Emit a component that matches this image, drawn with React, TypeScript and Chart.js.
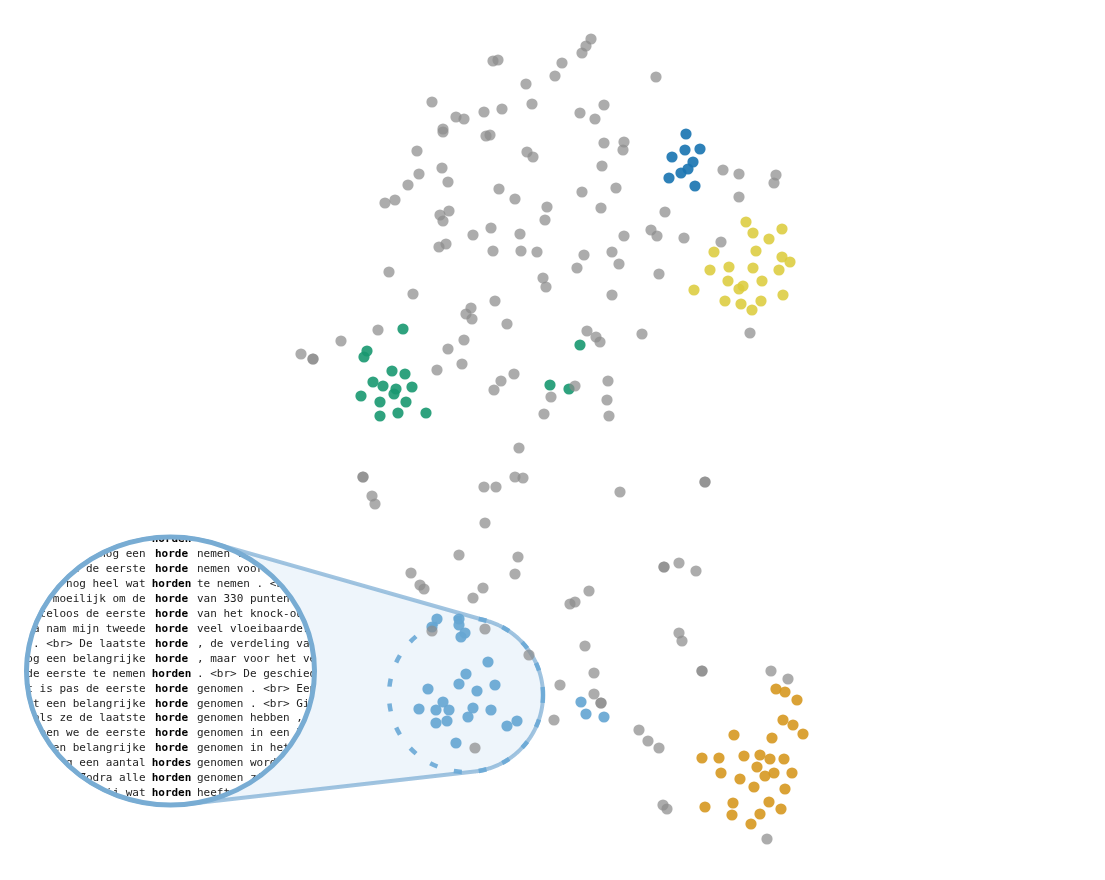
import React, { useEffect, useRef } from "react";
import { Chart, registerables } from "chart.js";

Chart.register(...registerables);

const W = 1105;
const H = 880;

// ---- data (embedding coordinates) ----
const grayPoints: number[][] = [
  [591, 39], [586, 46], [582, 53], [493, 61], [498, 60], [562, 63], [555, 76], [656, 77], [526, 84],
  [432, 102], [532, 104], [456, 117], [464, 119], [484, 112], [502, 109], [580, 113], [604, 105], [595, 119],
  [443, 129], [443, 132], [486, 136], [490, 135], [604, 143], [624, 142], [623, 150], [417, 151], [527, 152],
  [533, 157], [602, 166], [442, 168], [419, 174], [448, 182], [408, 185], [499, 189], [582, 192], [616, 188],
  [515, 199], [385, 203], [395, 200], [547, 207], [601, 208], [665, 212], [440, 215], [449, 211], [443, 221],
  [545, 220], [491, 228], [520, 234], [473, 235], [651, 230], [657, 236], [624, 236], [684, 238], [721, 242],
  [723, 170], [739, 174], [776, 175], [774, 183], [739, 197],
  [439, 247], [446, 244], [493, 251], [521, 251], [537, 252], [584, 255], [612, 252], [577, 268], [619, 264],
  [659, 274], [389, 272], [413, 294], [543, 278], [546, 287], [612, 295], [495, 301], [471, 308], [466, 314],
  [472, 319], [507, 324], [378, 330], [341, 341], [464, 340], [448, 349], [301, 354], [313, 359], [313, 359],
  [462, 364], [437, 370], [514, 374], [501, 381], [494, 390], [587, 331], [596, 337], [600, 342], [642, 334],
  [750, 333], [575, 386], [551, 397], [544, 414], [608, 381], [607, 400], [609, 416],
  [519, 448], [363, 477], [363, 477], [515, 477], [523, 478], [484, 487], [496, 487], [372, 496], [375, 504],
  [485, 523], [459, 555], [518, 557], [411, 573], [515, 574], [420, 585], [424, 589], [483, 588], [473, 598],
  [589, 591], [570, 604], [575, 602], [620, 492], [705, 482], [705, 482], [664, 567], [664, 567], [679, 563],
  [696, 571], [585, 646], [679, 633], [682, 641],
  [432, 631], [485, 629], [529, 655], [475, 748],
  [594, 673], [560, 685], [594, 694], [601, 703], [601, 703], [554, 720], [639, 730], [648, 741], [659, 748],
  [702, 671], [702, 671], [771, 671], [788, 679], [663, 805], [667, 809], [767, 839],
];

const bluePoints: number[][] = [
  [686, 134], [685, 150], [700, 149], [672, 157], [693, 162], [688, 169], [681, 173], [669, 178], [695, 186],
];

const yellowPoints: number[][] = [
  [746, 222], [753, 233], [782, 229], [769, 239], [714, 252], [756, 251], [782, 257], [790, 262], [729, 267],
  [753, 268], [779, 270], [710, 270], [728, 281], [762, 281], [739, 289], [743, 286], [694, 290], [783, 295],
  [725, 301], [741, 304], [761, 301], [752, 310],
];

const greenPoints: number[][] = [
  [403, 329], [367, 351], [364, 357], [392, 371], [405, 374], [373, 382], [383, 386], [396, 389], [394, 394],
  [412, 387], [361, 396], [380, 402], [406, 402], [380, 416], [398, 413], [426, 413], [580, 345], [550, 385],
  [569, 389],
];

const lightBluePoints: number[][] = [
  [437, 619], [432, 627], [459, 619], [459, 625], [461, 637], [465, 633], [488, 662], [466, 674], [428, 689],
  [459, 684], [477, 691], [495, 685], [443, 702], [419, 709], [436, 710], [449, 710], [473, 708], [491, 710],
  [468, 717], [436, 723], [447, 721], [507, 726], [517, 721], [456, 743], [581, 702], [586, 714], [604, 717],
];

const orangePoints: number[][] = [
  [776, 689], [785, 692], [797, 700], [783, 720], [793, 725], [803, 734], [734, 735], [772, 738], [702, 758],
  [719, 758], [744, 756], [760, 755], [770, 759], [784, 759], [757, 767], [721, 773], [740, 779], [765, 776],
  [774, 773], [792, 773], [754, 787], [785, 789], [733, 803], [769, 802], [781, 809], [705, 807], [732, 815],
  [760, 814], [751, 824],
];

// ---- concordance text in the magnifier ----
const leftContext: string[] = [
  "moeten we ook nog een paar",
  "Dan moeten we nog een",
  "Morgen is dan de eerste",
  "Er zijn nog heel wat",
  "Het bleek moeilijk om de",
  "Zij nam moeiteloos de eerste",
  "Daarna nam mijn tweede",
  "genomen . <br> De laatste",
  "Dat is nog een belangrijke",
  "Dat was de eerste te nemen",
  "Dit is pas de eerste",
  "Daarmee is er net een belangrijke",
  "Pas als ze de laatste",
  "Daarmee hebben we de eerste",
  "Zo hebben ze een belangrijke",
  "Er moet nog een aantal",
  "<br> Zodra alle",
  "Ik weet niet hoeveel hij wat",
];
const keywords: string[] = [
  "horden", "horde", "horde", "horden", "horde", "horde", "horde", "horde", "horde",
  "horden", "horde", "horde", "horde", "horde", "horde", "hordes", "horden", "horden",
];
const rightContext: string[] = [
  "te nemen voor de finale",
  "nemen voor we er zijn",
  "nemen voor de finale",
  "te nemen . <br> Het",
  "van 330 punten te halen",
  "van het knock-out toernooi",
  "veel vloeibaarder dan de eerste",
  ", de verdeling van de zetels",
  ", maar voor het verdere verloop",
  ". <br> De geschiedenis van",
  "genomen . <br> Een lange weg",
  "genomen . <br> Gisteren werd",
  "genomen hebben , kunnen ze",
  "genomen in een lange reeks",
  "genomen in het proces",
  "genomen worden voor",
  "genomen zijn , volgt",
  "heeft genomen",
];

// ---- lens geometry ----
const BIG = { cx: 170.5, cy: 671, rx: 144, ry: 134 };
const SMALL = { cx: 466, cy: 695, r: 77 };

function convexHull(pts: number[][]): number[][] {
  const p = pts.slice().sort((a, b) => (a[0] === b[0] ? a[1] - b[1] : a[0] - b[0]));
  const cross = (o: number[], a: number[], b: number[]) =>
    (a[0] - o[0]) * (b[1] - o[1]) - (a[1] - o[1]) * (b[0] - o[0]);
  const lower: number[][] = [];
  for (const q of p) {
    while (lower.length >= 2 && cross(lower[lower.length - 2], lower[lower.length - 1], q) <= 0) lower.pop();
    lower.push(q);
  }
  const upper: number[][] = [];
  for (let i = p.length - 1; i >= 0; i--) {
    const q = p[i];
    while (upper.length >= 2 && cross(upper[upper.length - 2], upper[upper.length - 1], q) <= 0) upper.pop();
    upper.push(q);
  }
  upper.pop();
  lower.pop();
  return lower.concat(upper);
}

const lensPlugin = {
  id: "lens",
  beforeDatasetsDraw(chart: any) {
    const ctx: CanvasRenderingContext2D = chart.ctx;
    const xs = chart.scales.x;
    const ys = chart.scales.y;
    const bx = xs.getPixelForValue(BIG.cx);
    const by = ys.getPixelForValue(BIG.cy);
    const sx = xs.getPixelForValue(SMALL.cx);
    const sy = ys.getPixelForValue(SMALL.cy);
    const pts: number[][] = [];
    for (let i = 0; i < 720; i++) {
      const a = (i / 720) * Math.PI * 2;
      pts.push([bx + BIG.rx * Math.cos(a), by + BIG.ry * Math.sin(a)]);
      pts.push([sx + SMALL.r * Math.cos(a), sy + SMALL.r * Math.sin(a)]);
    }
    const hull = convexHull(pts);
    ctx.save();
    ctx.beginPath();
    hull.forEach((q, i) => (i === 0 ? ctx.moveTo(q[0], q[1]) : ctx.lineTo(q[0], q[1])));
    ctx.closePath();
    ctx.fillStyle = "#eef5fb";
    ctx.fill();
    ctx.lineWidth = 4;
    ctx.strokeStyle = "rgba(110,165,208,0.65)";
    ctx.lineJoin = "round";
    ctx.stroke();
    // dashed selection circle
    ctx.beginPath();
    ctx.arc(sx, sy, SMALL.r, 0, Math.PI * 2);
    ctx.setLineDash([8, 17]);
    ctx.lineWidth = 4.5;
    ctx.strokeStyle = "rgba(105,168,214,0.9)";
    ctx.stroke();
    ctx.restore();
  },
  afterDatasetsDraw(chart: any) {
    const ctx: CanvasRenderingContext2D = chart.ctx;
    const xs = chart.scales.x;
    const ys = chart.scales.y;
    const bx = xs.getPixelForValue(BIG.cx);
    const by = ys.getPixelForValue(BIG.cy);
    ctx.save();
    ctx.beginPath();
    ctx.ellipse(bx, by, BIG.rx, BIG.ry, 0, 0, Math.PI * 2);
    ctx.fillStyle = "#ffffff";
    ctx.fill();
    ctx.save();
    ctx.clip();
    ctx.textBaseline = "middle";
    const kwCenter = bx + 1;
    const leftEdge = kwCenter - 26;
    const rightEdge = kwCenter + 25.5;
    keywords.forEach((kw, i) => {
      const y = by - 132 + i * 14.97;
      ctx.fillStyle = "#222222";
      ctx.font = '11px "DejaVu Sans Mono", monospace';
      ctx.textAlign = "right";
      ctx.fillText(leftContext[i], leftEdge, y);
      ctx.textAlign = "left";
      ctx.fillText(rightContext[i], rightEdge, y);
      ctx.fillStyle = "#000000";
      ctx.font = 'bold 11px "DejaVu Sans Mono", monospace';
      ctx.textAlign = "center";
      ctx.fillText(kw, kwCenter, y);
    });
    ctx.restore();
    ctx.beginPath();
    ctx.ellipse(bx, by, BIG.rx, BIG.ry, 0, 0, Math.PI * 2);
    ctx.lineWidth = 5;
    ctx.strokeStyle = "#78acd3";
    ctx.stroke();
    ctx.restore();
  },
};

const toXY = (arr: number[][]) => arr.map(([x, y]) => ({ x, y }));

export default function App() {
  const ref = useRef<HTMLCanvasElement | null>(null);
  useEffect(() => {
    if (!ref.current) return;
    const mk = (data: number[][], color: string) => ({
      data: toXY(data),
      backgroundColor: color,
      borderWidth: 0,
      pointRadius: 5.6,
      pointHoverRadius: 5.6,
    });
    const chart = new Chart(ref.current, {
      type: "scatter",
      data: {
        datasets: [
          mk(grayPoints, "rgba(140,140,140,0.72)"),
          mk(bluePoints, "rgba(28,118,178,0.92)"),
          mk(yellowPoints, "rgba(220,204,62,0.88)"),
          mk(greenPoints, "rgba(24,152,112,0.9)"),
          mk(lightBluePoints, "rgba(102,166,210,0.92)"),
          mk(orangePoints, "rgba(214,152,32,0.9)"),
        ],
      },
      options: {
        animation: false,
        responsive: false,
        devicePixelRatio: 1,
        layout: { padding: 0, autoPadding: false },
        plugins: { legend: { display: false }, tooltip: { enabled: false } },
        scales: {
          x: { type: "linear", min: 0, max: W, display: false },
          y: { type: "linear", min: 0, max: H, reverse: true, display: false },
        },
      },
      plugins: [lensPlugin],
    } as any);
    return () => chart.destroy();
  }, []);
  return (
    <div style={{ position: "fixed", left: 0, top: 0, width: W, height: H, background: "#fff" }}>
      <canvas ref={ref} width={W} height={H} style={{ display: "block" }} />
    </div>
  );
}
